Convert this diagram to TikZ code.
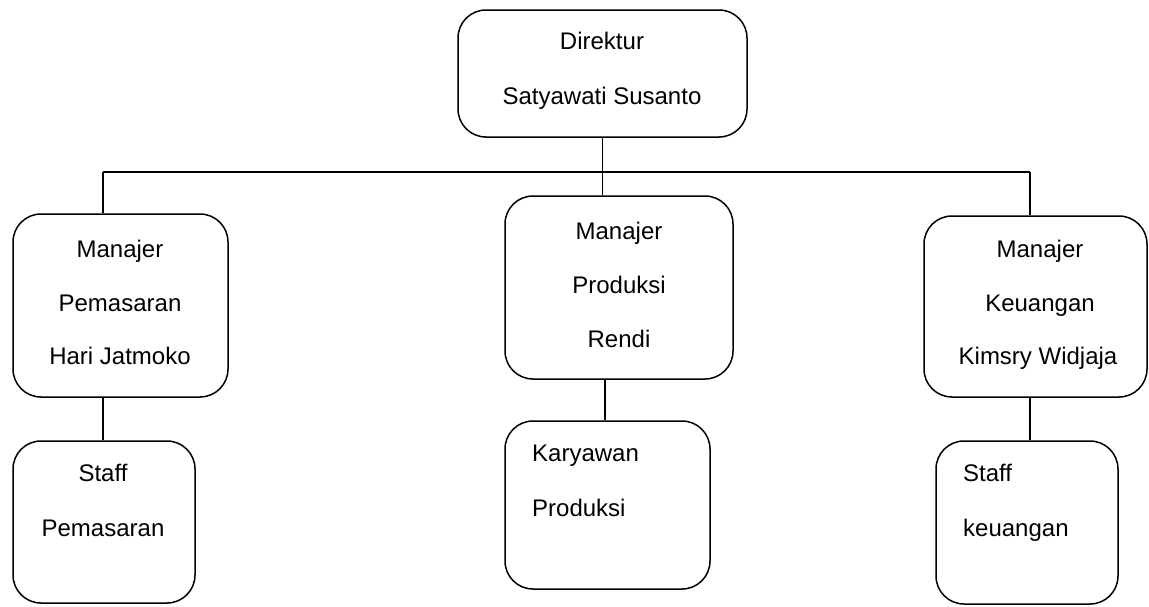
\documentclass[tikz,border=0pt]{standalone}
\usepackage{fontspec}
\setmainfont{Liberation Sans}
\begin{document}
\begin{tikzpicture}[x=1pt,y=-1pt,
  box/.style={draw, line width=1.5pt, rounded corners=28pt, inner sep=0pt},
  ctxt/.style={anchor=base, inner sep=0pt, font=\fontsize{24}{28}\selectfont},
  ltxt/.style={anchor=base west, inner sep=0pt, font=\fontsize{24}{28}\selectfont},
  conn/.style={line width=1.5pt}]
\useasboundingbox (0,0) rectangle (1149,606);
% boxes
\node[box, minimum width=289pt, minimum height=127pt] (dir) at (602.5,73.5) {};
\node[box, minimum width=215pt, minimum height=183pt] (pem) at (120.5,305.5) {};
\node[box, minimum width=228pt, minimum height=183pt] (prod) at (619,287.5) {};
\node[box, minimum width=223pt, minimum height=181pt] (keu) at (1035.5,306.5) {};
\node[box, minimum width=182pt, minimum height=162pt] (spem) at (104,522) {};
\node[box, minimum width=205pt, minimum height=168pt] (kary) at (607.5,505) {};
\node[box, minimum width=182pt, minimum height=163pt] (skeu) at (1027,522.5) {};
% texts
\node[ctxt] (t1) at (602,49) {Direktur};
\node[ctxt] (t2) at (602,104) {Satyawati Susanto};
\node[ctxt] (t3) at (120,257) {Manajer};
\node[ctxt] (t4) at (120,311) {Pemasaran};
\node[ctxt] (t5) at (120,364) {Hari Jatmoko};
\node[ctxt] (t6) at (619,239) {Manajer};
\node[ctxt] (t7) at (619,293) {Produksi};
\node[ctxt] (t8) at (619,347) {Rendi};
\node[ctxt] (t9) at (1040,257) {Manajer};
\node[ctxt] (t10) at (1040,311) {Keuangan};
\node[ctxt] (t11) at (1038,364) {Kimsry Widjaja};
\node[ctxt] (t12) at (103,481) {Staff};
\node[ctxt] (t13) at (103,536) {Pemasaran};
\node[ltxt] (t14) at (532,461) {Karyawan};
\node[ltxt] (t15) at (532,516) {Produksi};
\node[ltxt] (t16) at (963,481) {Staff};
\node[ltxt] (t17) at (963,536) {keuangan};
% connectors
\coordinate (busL) at (103,172);
\coordinate (busR) at (1030,172);
\coordinate (kx) at (605,0);
\draw[conn] (busL) -- (busR);
\draw[conn] (dir.south) -- (dir.south |- prod.north);
\draw[conn] (busL) -- (busL |- pem.north);
\draw[conn] (busR) -- (busR |- keu.north);
\draw[conn] (pem.south -| busL) -- (busL |- spem.north);
\draw[conn] (prod.south -| kx) -- (kx |- kary.north);
\draw[conn] (keu.south -| busR) -- (busR |- skeu.north);
\end{tikzpicture}
\end{document}
